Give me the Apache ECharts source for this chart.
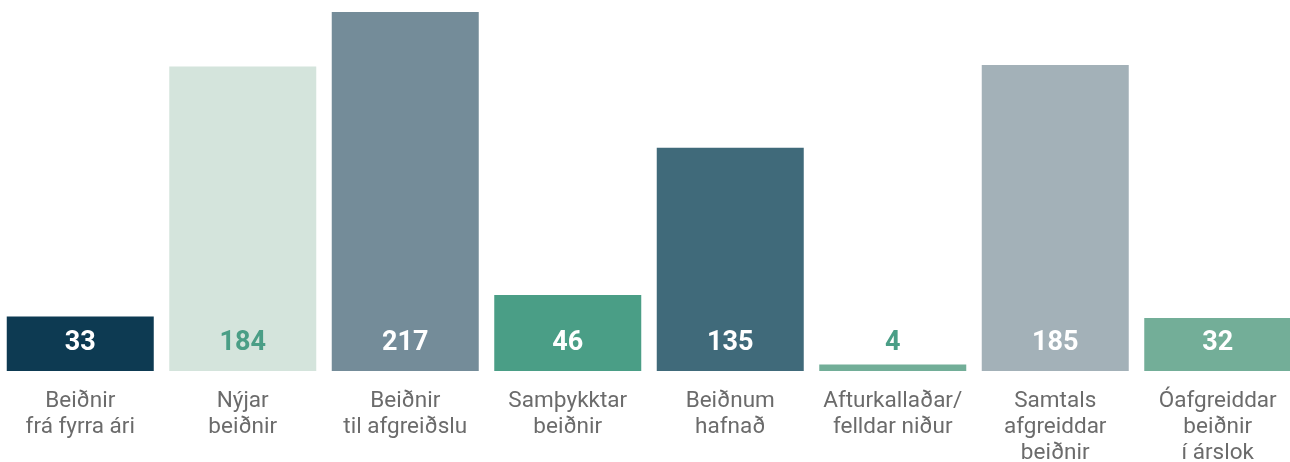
<!DOCTYPE html>
<html>
<head>
<meta charset="utf-8">
<script src="https://cdn.jsdelivr.net/npm/echarts@6/dist/echarts.min.js"></script>
<style>
html,body{margin:0;padding:0;background:#fff;}
#chart{width:1290px;height:462px;}
</style>
</head>
<body>
<div id="chart"></div>
<script>
const categories = [
  "Beiðnir\nfrá fyrra ári",
  "Nýjar\nbeiðnir",
  "Beiðnir\ntil afgreiðslu",
  "Samþykktar\nbeiðnir",
  "Beiðnum\nhafnað",
  "Afturkallaðar/\nfelldar niður",
  "Samtals\nafgreiddar\nbeiðnir",
  "Óafgreiddar\nbeiðnir\ní árslok"
];
const values = [33, 184, 217, 46, 135, 4, 185, 32];

const barColors = ["#0d3a52", "#d4e4dc", "#748c99", "#4a9e86", "#406a7a", "#72ae98", "#a3b1b8", "#73ae98"];
const labelColors = ["#ffffff", "#4a9e86", "#ffffff", "#ffffff", "#ffffff", "#4a9e86", "#ffffff", "#ffffff"];

const chart = echarts.init(document.getElementById('chart'), null, {renderer: 'canvas'});
chart.setOption({
  animation: false,
  grid: {left: -1, right: -9, top: 12, bottom: 91, containLabel: false, outerBoundsMode: 'none'},
  xAxis: {
    type: 'category',
    data: categories,
    axisLine: {show: false},
    axisTick: {show: false},
    axisLabel: {
      margin: 17,
      color: '#6b6b6b',
      fontFamily: 'Roboto',
      fontSize: 22.5,
      lineHeight: 26,
      interval: 0
    }
  },
  yAxis: {
    type: 'value',
    min: 0,
    max: 217,
    show: false
  },
  series: [{
    type: 'bar',
    barWidth: 147,
    data: values.map((v, i) => ({
      value: v,
      itemStyle: {color: barColors[i]},
      label: {color: labelColors[i]}
    })),
    label: {
      show: true,
      position: 'insideBottom',
      distance: 13,
      fontFamily: 'Roboto',
      fontWeight: 'bold',
      fontSize: 27,
      lineHeight: 30
    }
  }]
});
</script>
</body>
</html>
